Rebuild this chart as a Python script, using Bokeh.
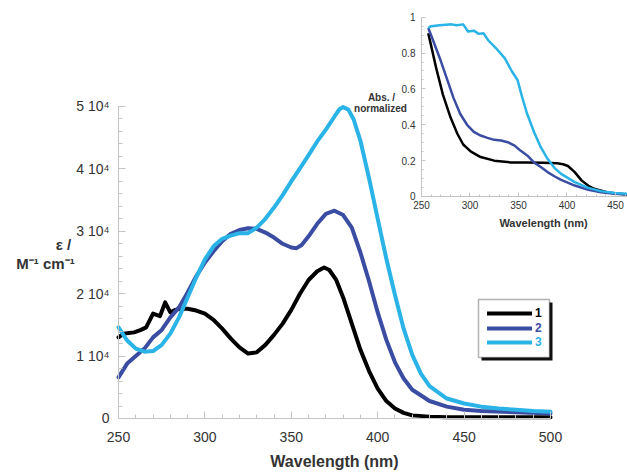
from bokeh.plotting import figure
from bokeh.models import Range1d, LinearAxis, FixedTicker, Label, Legend, LegendItem, BoxAnnotation
from bokeh.embed import file_html
from bokeh.resources import INLINE

# ---------------- data ----------------
series_names = ["1", "2", "3"]
series_colors = ["#000000", "#3b4da2", "#29b3e6"]

# main panel: molar absorptivity (M^-1 cm^-1) vs wavelength (nm)
wl_1 = [250, 253, 256, 259, 263, 266, 270, 274, 277, 280, 283, 286, 290, 295, 300, 305, 310, 315, 320,
        325, 330, 335, 340, 345, 350, 355, 360, 365, 369, 372, 376, 380, 385, 390, 395, 400, 405, 410,
        415, 420, 430, 440, 460, 480, 500]
eps_1 = [13000, 13600, 13700, 13800, 14200, 14600, 16800, 16400, 18600, 17000, 17400, 17600, 17600,
         17300, 16800, 15800, 14400, 12800, 11400, 10400, 10600, 11800, 13400, 15200, 17400, 20000,
         22200, 23600, 24200, 23800, 22200, 19400, 15200, 11000, 7600, 4800, 2800, 1600, 900, 500,
         300, 200, 200, 200, 200]

wl_2 = [250, 255, 260, 265, 270, 275, 280, 285, 290, 295, 300, 305, 310, 315, 320, 325, 330, 335, 340,
        345, 350, 353, 356, 360, 365, 370, 375, 380, 385, 390, 395, 400, 405, 410, 415, 420, 430, 440,
        450, 460, 480, 500]
eps_2 = [6600, 8800, 10000, 11200, 13000, 14200, 16200, 17800, 20200, 22800, 25000, 26800, 28400,
         29600, 30200, 30500, 30400, 29800, 29000, 28000, 27400, 27300, 27800, 29200, 31200, 32800,
         33300, 32600, 30600, 26600, 22000, 17000, 12600, 9000, 6400, 4600, 2800, 1900, 1400, 1200,
         1000, 800]

wl_3 = [250, 255, 260, 265, 270, 275, 280, 285, 290, 295, 300, 305, 310, 315, 320, 325, 330, 335, 340,
        345, 350, 355, 360, 365, 370, 375, 378, 380, 383, 386, 390, 395, 400, 405, 410, 415, 420, 425,
        430, 440, 450, 460, 470, 480, 490, 500]
eps_3 = [14600, 12500, 11200, 10700, 10800, 11800, 13600, 16200, 19400, 22600, 25500, 27600, 28800,
         29300, 29700, 29700, 30600, 32000, 33800, 35800, 38000, 40100, 42200, 44400, 46300, 48400,
         49600, 49900, 49500, 48000, 44500, 38500, 32000, 25600, 19800, 14400, 10200, 7200, 5200,
         3200, 2400, 1900, 1600, 1400, 1200, 1100]

# inset: normalized absorbance vs wavelength (nm)
iwl_1 = [257, 260, 265, 272, 280, 287, 293, 301, 311, 325, 342, 359, 376, 390, 396, 401, 408, 415, 422,
         428, 442, 463]
iabs_1 = [0.91, 0.84, 0.72, 0.57, 0.44, 0.35, 0.29, 0.25, 0.22, 0.20, 0.19, 0.19, 0.188, 0.185, 0.18,
          0.17, 0.136, 0.09, 0.06, 0.043, 0.022, 0.011]

iwl_2 = [257, 262, 269, 276, 283, 290, 297, 304, 311, 318, 325, 332, 339, 346, 352, 359, 366, 373, 380,
         387, 394, 408, 422, 435, 449, 463]
iabs_2 = [0.94, 0.87, 0.77, 0.66, 0.55, 0.46, 0.40, 0.36, 0.34, 0.327, 0.316, 0.312, 0.303, 0.284,
          0.256, 0.229, 0.19, 0.164, 0.136, 0.113, 0.093, 0.061, 0.037, 0.024, 0.015, 0.011]

iwl_3 = [257, 260, 269, 281, 286, 293, 298, 304, 309, 314, 319, 328, 336, 343, 349, 354, 359, 366, 373,
         380, 387, 394, 408, 422, 435, 449, 463]
iabs_3 = [0.94, 0.95, 0.955, 0.96, 0.955, 0.96, 0.92, 0.925, 0.907, 0.91, 0.87, 0.82, 0.77, 0.70,
          0.65, 0.55, 0.46, 0.36, 0.275, 0.21, 0.16, 0.126, 0.08, 0.048, 0.03, 0.019, 0.015]

x_ticks = [250, 300, 350, 400, 450, 500]
x_minor = [250, 260, 270, 280, 290, 300, 310, 320, 330, 340, 350, 360, 370, 380, 390, 400, 410, 420,
           430, 440, 450, 460, 470, 480, 490, 500]
y_ticks = [0, 10000, 20000, 30000, 40000, 50000]
y_tick_labels = ["0", "1 10\u2074", "2 10\u2074", "3 10\u2074", "4 10\u2074", "5 10\u2074"]
y_minor = [0, 2000, 4000, 6000, 8000, 10000, 12000, 14000, 16000, 18000, 20000, 22000, 24000, 26000,
           28000, 30000, 32000, 34000, 36000, 38000, 40000, 42000, 44000, 46000, 48000, 50000]

ix_ticks = [250, 300, 350, 400, 450]
ix_minor = [250, 260, 270, 280, 290, 300, 310, 320, 330, 340, 350, 360, 370, 380, 390, 400, 410, 420,
            430, 440, 450, 460]
iy_ticks = [0, 0.2, 0.4, 0.6, 0.8, 1]
iy_minor = [0, 0.05, 0.1, 0.15, 0.2, 0.25, 0.3, 0.35, 0.4, 0.45, 0.5, 0.55, 0.6, 0.65, 0.7, 0.75,
            0.8, 0.85, 0.9, 0.95, 1]

FONT = "Liberation Sans"
AXIS_GRAY = "#c4c4c4"
TEXT = "#333333"

# the frame covers the whole canvas; every axis is pinned with fixed_location
p = figure(width=627, height=472, output_backend="svg", toolbar_location=None,
           x_range=Range1d(181.71, 544.56), y_range=Range1d(-8654, 66987),
           min_border=0, min_border_left=0, min_border_right=0,
           min_border_top=0, min_border_bottom=0)
p.grid.visible = False
p.outline_line_color = None
p.background_fill_color = "white"
p.extra_x_ranges = {"ix": Range1d(-184.0, 462.4)}
p.extra_y_ranges = {"iy": Range1d(-1.5393, 1.0931)}


def style_axis(ax, major_font, major_in, minor_in):
    ax.axis_line_color = AXIS_GRAY
    ax.major_tick_line_color = AXIS_GRAY
    ax.minor_tick_line_color = AXIS_GRAY
    ax.major_tick_in = major_in
    ax.major_tick_out = 0
    ax.minor_tick_in = minor_in
    ax.minor_tick_out = 0
    ax.major_label_text_font = FONT
    ax.major_label_text_font_size = major_font
    ax.major_label_text_color = TEXT
    ax.axis_label_text_font = FONT
    ax.axis_label_text_font_style = "bold"
    ax.axis_label_text_color = TEXT


xa = p.xaxis[0]
xa.fixed_location = 0
xa.bounds = (250, 500)
xa.ticker = FixedTicker(ticks=x_ticks, minor_ticks=x_minor)
style_axis(xa, "14px", 7, 4)
xa.major_label_standoff = 14
xa.axis_label = "Wavelength (nm)"
xa.axis_label_text_font_size = "16px"
xa.axis_label_standoff = 7

ya = p.yaxis[0]
ya.fixed_location = 250
ya.bounds = (0, 50000)
ya.ticker = FixedTicker(ticks=y_ticks, minor_ticks=y_minor)
ya.major_label_overrides = {t: l for t, l in zip(y_ticks, y_tick_labels)}
style_axis(ya, "14px", 7, 4)
ya.major_label_standoff = 9

# main curves
wls = [wl_1, wl_2, wl_3]
eps = [eps_1, eps_2, eps_3]
main_renderers = []
for w, e, c in zip(wls, eps, series_colors):
    r = p.line(w, e, line_color=c, line_width=4, line_join="round", line_cap="round")
    main_renderers.append(r)

# inset axes
ixa = LinearAxis(x_range_name="ix", y_range_name="iy", fixed_location=0, bounds=(250, 500))
ixa.ticker = FixedTicker(ticks=ix_ticks, minor_ticks=ix_minor)
style_axis(ixa, "10px", 4, 2)
ixa.major_label_standoff = 5
p.add_layout(ixa, "below")

iya = LinearAxis(x_range_name="ix", y_range_name="iy", fixed_location=250, bounds=(0, 1))
iya.ticker = FixedTicker(ticks=iy_ticks, minor_ticks=iy_minor)
iya.major_label_overrides = {0: "0", 1: "1"}
style_axis(iya, "10px", 4, 2)
iya.major_label_standoff = 6
p.add_layout(iya, "left")

iwls = [iwl_1, iwl_2, iwl_3]
iabs = [iabs_1, iabs_2, iabs_3]
for w, a, c in zip(iwls, iabs, series_colors):
    p.line(w, a, line_color=c, line_width=2.5, line_join="round",
           x_range_name="ix", y_range_name="iy")

# axis titles written horizontally (screen px from the bottom-left corner)
for txt, x, y, size in [("\u03b5 /", 63, 228, "15px"),
                        ("M\u207b\u00b9 cm\u207b\u00b9", 45, 209, "15px"),
                        ("Abs. /", 381, 375, "10px"),
                        ("normalized", 380, 364, "10px"),
                        ("Wavelength (nm)", 543, 250, "11px")]:
    p.add_layout(Label(x=x, y=y, x_units="screen", y_units="screen", text=txt,
                       text_align="center", text_baseline="middle", text_font=FONT,
                       text_font_size=size, text_font_style="bold", text_color=TEXT))

# legend box with shadow
p.add_layout(BoxAnnotation(left=481, right=552, bottom=112, top=170,
                           left_units="screen", right_units="screen",
                           top_units="screen", bottom_units="screen",
                           fill_color="#111111", fill_alpha=1, line_color=None))
p.add_layout(BoxAnnotation(left=478, right=549, bottom=115, top=173,
                           left_units="screen", right_units="screen",
                           top_units="screen", bottom_units="screen",
                           fill_color="white", fill_alpha=1, line_color="black", line_width=1.5))

for name, r, c, ypos in zip(series_names, main_renderers, series_colors, [152, 137.5, 123]):
    leg = Legend(items=[LegendItem(label=name, renderers=[r])], location=(487, ypos),
                 background_fill_alpha=0, border_line_color=None, padding=0, margin=0,
                 spacing=0, glyph_width=45, glyph_height=14, label_height=14,
                 label_standoff=3, label_text_font=FONT, label_text_font_size="12px",
                 label_text_font_style="bold", label_text_color=c)
    p.add_layout(leg, "center")

open("out.html", "w").write(file_html(p, INLINE))
